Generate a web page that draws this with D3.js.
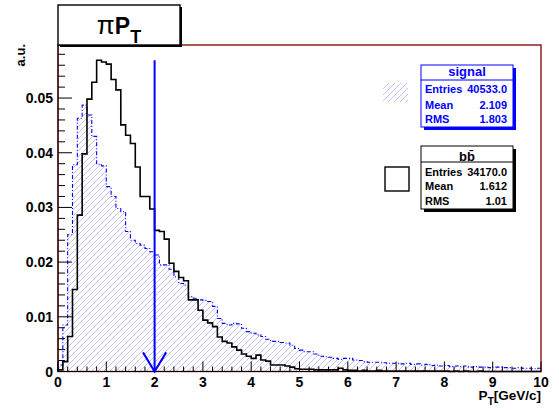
<!DOCTYPE html>
<html><head><meta charset="utf-8">
<script src="https://cdn.jsdelivr.net/npm/d3@7"></script>
<style>body{margin:0;background:#fff}svg{display:block}text{font-family:"Liberation Sans",Arial,sans-serif;font-weight:bold}</style>
</head><body><div id="chart"></div>
<script>
// ---- data ----
const binWidth = 0.1;
const binStarts = d3.range(100).map(i => +(i * binWidth).toFixed(1));
const signalValues = [
0.0012,0.0085,0.0250,0.0378,0.0463,0.0487,0.0469,0.0430,0.0379,0.0376,
0.0338,0.0320,0.0298,0.0292,0.0256,0.0240,0.0234,0.0231,0.0225,0.0219,
0.0213,0.0195,0.0195,0.0187,0.0173,0.0161,0.0158,0.0137,0.0134,0.0131,
0.0130,0.0128,0.0119,0.0097,0.0088,0.0085,0.0088,0.0087,0.0079,0.0073,
0.0070,0.0067,0.0064,0.0059,0.0055,0.0055,0.0053,0.0052,0.0048,0.0042,
0.0039,0.0036,0.0036,0.0032,0.0028,0.0027,0.0026,0.0024,0.0022,0.0024,
0.0024,0.0021,0.0020,0.0018,0.0017,0.0017,0.0017,0.0016,0.0015,0.0015,
0.0015,0.0014,0.0015,0.0013,0.0014,0.0012,0.0013,0.0011,0.0012,0.0010,
0.0011,0.0009,0.0010,0.0009,0.0010,0.0008,0.0009,0.0008,0.0008,0.0007,
0.0008,0.0008,0.0007,0.0007,0.0006,0.0007,0.0006,0.0006,0.0005,0.0006];
const bbbarValues = [
0.0003,0.0018,0.0064,0.0150,0.0286,0.0398,0.0498,0.0529,0.0569,0.0566,
0.0562,0.0534,0.0515,0.0451,0.0432,0.0417,0.0374,0.0320,0.0320,0.0297,
0.0258,0.0256,0.0242,0.0198,0.0183,0.0172,0.0166,0.0131,0.0131,0.0112,
0.0094,0.0089,0.0082,0.0063,0.0055,0.0052,0.0045,0.0039,0.0032,0.0028,
0.0024,0.0030,0.0021,0.0019,0.0012,0.0012,0.0012,0.0010,0.0008,0.0005,
0.0004,0.0004,0.0004,0.0003,0.0003,0.0003,0.0003,0.0003,0.0006,0.0003,
0.0002,0.0002,0.0001,0.0002,0.0001,0.0001,0.0002,0.0001,0.0001,0.0001,
0.0001,0.0001,0.0001,0.0001,0.0001,0.0001,0.0001,0.0001,0.0001,0.0001,
0.0001,0.0000,0.0001,0.0000,0.0001,0.0000,0.0000,0.0001,0.0000,0.0000,
0.0000,0.0000,0.0000,0.0000,0.0000,0.0000,0.0000,0.0000,0.0000,0.0000];
const xTicks = [0,1,2,3,4,5,6,7,8,9,10];
const yTicks = [0,0.01,0.02,0.03,0.04,0.05];
const cutValue = 2.0;
const cutTop = 0.0569;
const signalStats = [["Entries","40533.0"],["Mean","2.109"],["RMS","1.803"]];
const bbbarStats = [["Entries","34170.0"],["Mean","1.612"],["RMS","1.01"]];

// ---- layout ----
const W = 559, H = 412;
const x = d3.scaleLinear().domain([0, 10]).range([58, 541]);
const y = d3.scaleLinear().domain([0, 0.0597]).range([371.5, 45]);

const svg = d3.select("#chart").append("svg").attr("width", W).attr("height", H);
svg.append("rect").attr("width", W).attr("height", H).attr("fill", "#fff");
const defs = svg.append("defs");

function stepPoints(vals){
  const pts = [[0,0]];
  vals.forEach((v,i)=>pts.push([binStarts[i], v]));
  pts.push([10, vals[vals.length-1]]);
  pts.push([10, 0]);
  return pts;
}
const stepLine = d3.line().x(d=>x(d[0])).y(d=>y(d[1])).curve(d3.curveStepAfter);

// hatch helper: diagonal "/" lines clipped to a shape
function hatch(clipId, x0, y0, x1, y1){
  const g = svg.append("g").attr("clip-path", `url(#${clipId})`);
  const sp = 6;
  for (let c = x0 - (y1 - y0); c <= x1 + sp; c += sp){
    g.append("line").attr("x1", c).attr("y1", y1).attr("x2", c + (y1 - y0)).attr("y2", y0)
      .attr("stroke", "#b0b3f6").attr("stroke-width", 0.8);
  }
}

// signal hatched fill
defs.append("clipPath").attr("id","sigclip").append("path")
  .attr("d", stepLine(stepPoints(signalValues)) + "Z");
hatch("sigclip", x(0), y(0.0597), x(10), y(0));
// signal outline
svg.append("path").attr("d", stepLine(stepPoints(signalValues)))
  .attr("fill","none").attr("stroke","#0000ff").attr("stroke-width",1.1)
  .attr("stroke-dasharray","4,2,1,2");
// bbbar outline
svg.append("path").attr("d", stepLine(stepPoints(bbbarValues)))
  .attr("fill","none").attr("stroke","#000").attr("stroke-width",1.6);

// frame
svg.append("rect").attr("x",x(0)).attr("y",y(0.0597)).attr("width",x(10)-x(0)).attr("height",y(0)-y(0.0597))
  .attr("fill","none").attr("stroke","#8b1010").attr("stroke-width",1.4);

// axes
const xAxis = svg.append("g");
d3.range(0, 10.001, 0.2).forEach(t=>{
  const major = Math.abs(t - Math.round(t)) < 1e-6;
  xAxis.append("line").attr("x1",x(t)).attr("x2",x(t)).attr("y1",y(0)).attr("y2",y(0)-(major?10:5))
    .attr("stroke","#000").attr("stroke-width",1);
});
xAxis.append("line").attr("x1",x(0)).attr("x2",x(10)).attr("y1",y(0)).attr("y2",y(0)).attr("stroke","#000").attr("stroke-width",1);
xTicks.forEach(t=>{
  xAxis.append("text").attr("x",x(t)).attr("y",387).attr("text-anchor","middle")
    .attr("font-size",14).text(d3.format("d")(t));
});
const xt = svg.append("text").attr("x",x(10)).attr("y",400).attr("text-anchor","end").attr("font-size",13.5);
xt.append("tspan").text("P");
xt.append("tspan").attr("dy",5).attr("font-size",10).text("T");
xt.append("tspan").attr("dy",-5).text("[GeV/c]");

const yAxis = svg.append("g");
d3.range(0, 0.0591, 0.002).forEach(t=>{
  const major = Math.abs(t*100 - Math.round(t*100)) < 1e-6;
  yAxis.append("line").attr("x1",x(0)).attr("x2",x(0)+(major?14:7)).attr("y1",y(t)).attr("y2",y(t))
    .attr("stroke","#000").attr("stroke-width",1);
});
yAxis.append("line").attr("x1",x(0)).attr("x2",x(0)).attr("y1",y(0)).attr("y2",y(0.0597)).attr("stroke","#000").attr("stroke-width",1);
yTicks.forEach(t=>{
  yAxis.append("text").attr("x",53).attr("y",y(t)).attr("dy","0.36em").attr("text-anchor","end")
    .attr("font-size",14).text(t===0?"0":d3.format(".2f")(t));
});
svg.append("text").attr("transform","translate(25,44) rotate(-90)").attr("text-anchor","end")
  .attr("font-size",13).text("a.u.");

// cut arrow
const ax = x(cutValue);
svg.append("line").attr("x1",ax).attr("x2",ax).attr("y1",y(cutTop)).attr("y2",y(0))
  .attr("stroke","#0000ff").attr("stroke-width",2);
svg.append("path").attr("d",`M${x(cutValue-0.24)},${y(0.0035)} L${ax},${y(0)} L${x(cutValue+0.24)},${y(0.0035)}`)
  .attr("fill","none").attr("stroke","#0000ff").attr("stroke-width",2);

// title box
svg.append("rect").attr("x",60).attr("y",7).attr("width",122).attr("height",40).attr("fill","#000");
svg.append("rect").attr("x",58).attr("y",5).attr("width",122).attr("height",40).attr("fill","#fff")
  .attr("stroke","#000").attr("stroke-width",1.4);
const tt = svg.append("text").attr("x",119).attr("y",34).attr("text-anchor","middle");
tt.append("tspan").attr("font-weight","normal").attr("font-size",26).text("π");
tt.append("tspan").attr("font-size",23).text("P");
tt.append("tspan").attr("font-size",18).attr("dy",9).text("T");

// stats boxes
function statBox(x0, y0, w, h, color, header, rows, rowY, headerY, lineY){
  svg.append("rect").attr("x",x0+3).attr("y",y0+3).attr("width",w).attr("height",h).attr("fill",color);
  svg.append("rect").attr("x",x0).attr("y",y0).attr("width",w).attr("height",h).attr("fill","#fff")
    .attr("stroke",color).attr("stroke-width",1);
  svg.append("line").attr("x1",x0).attr("x2",x0+w).attr("y1",lineY).attr("y2",lineY).attr("stroke",color);
  svg.append("text").attr("x",x0+w/2).attr("y",headerY).attr("text-anchor","middle").attr("font-size",13)
    .attr("fill",color).text(header);
  rows.forEach((r,i)=>{
    svg.append("text").attr("x",x0+4).attr("y",rowY[i]).attr("font-size",11).attr("fill",color).text(r[0]);
    svg.append("text").attr("x",x0+w-6).attr("y",rowY[i]).attr("text-anchor","end").attr("font-size",11).attr("fill",color).text(r[1]);
  });
}
statBox(421, 65, 92, 62, "#0000ff", "signal", signalStats, [92.5,109,123], 76, 80);
statBox(421, 146, 92, 63, "#000", "b\u0062\u0304", bbbarStats, [175.5,190,205], 161, 162);

// legend swatches
defs.append("clipPath").attr("id","swclip").append("rect").attr("x",383).attr("y",83).attr("width",25).attr("height",19);
hatch("swclip", 383, 83, 408, 102);
svg.append("rect").attr("x",385).attr("y",167).attr("width",24).attr("height",24).attr("fill","none")
  .attr("stroke","#000").attr("stroke-width",1.4);
</script></body></html>
